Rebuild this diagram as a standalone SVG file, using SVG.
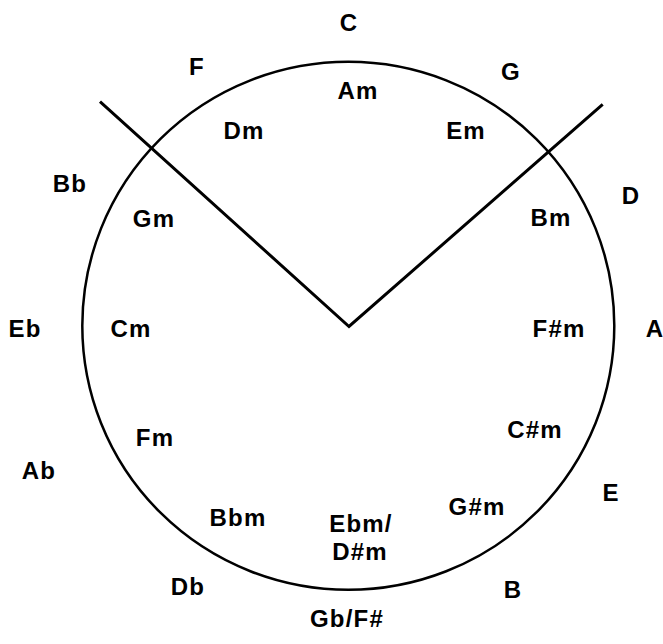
<svg xmlns="http://www.w3.org/2000/svg" width="663" height="644" viewBox="0 0 663 644">
<style>
text{font-family:"Liberation Sans",Arial,sans-serif;font-weight:bold;font-size:24px;letter-spacing:1.2px;text-anchor:middle;fill:#000}
.ln{fill:none;stroke:#000;stroke-width:3;stroke-linejoin:miter}
</style>
<rect width="663" height="644" fill="#fff"/>
<g id="circle"><ellipse cx="348.3" cy="325.8" rx="266" ry="264" fill="none" stroke="#000" stroke-width="2.5"/></g>
<g id="connectors"><polyline class="ln" points="100,101.7 349,326.5 602.7,104.3"/></g>
<g id="major">
<text x="349" y="31">C</text>
<text x="511" y="80">G</text>
<text x="631" y="204">D</text>
<text x="655" y="337">A</text>
<text x="611" y="501">E</text>
<text x="513" y="598">B</text>
<text x="347" y="627">Gb/F#</text>
<text x="188" y="595">Db</text>
<text x="39" y="479">Ab</text>
<text x="25" y="337">Eb</text>
<text x="70" y="192">Bb</text>
<text x="197" y="75">F</text>
</g>
<g id="minor">
<text x="358" y="99">Am</text>
<text x="466" y="139">Em</text>
<text x="551" y="226">Bm</text>
<text x="559" y="337">F#m</text>
<text x="535" y="438">C#m</text>
<text x="477" y="515">G#m</text>
<text x="361" y="532">Ebm/</text>
<text x="360" y="560">D#m</text>
<text x="238" y="526">Bbm</text>
<text x="155" y="446">Fm</text>
<text x="131" y="337">Cm</text>
<text x="154" y="227">Gm</text>
<text x="244" y="139">Dm</text>
</g>
</svg>
